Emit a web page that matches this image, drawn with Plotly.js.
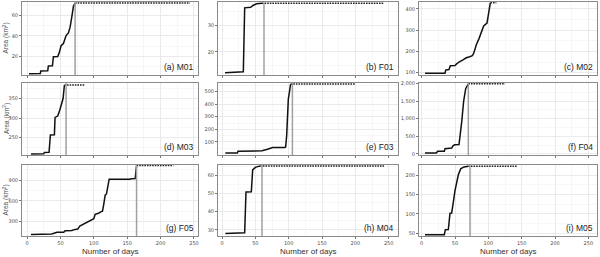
<!DOCTYPE html>
<html><head><meta charset="utf-8">
<script src="https://cdn.plot.ly/plotly-3.0.1.min.js"></script>
<style>html,body{margin:0;padding:0;background:#fff}#chart{width:600px;height:257px}</style>
</head><body><div id="chart"></div>
<script>
const panelLabels = ["(a) M01","(b) F01","(c) M02","(d) M03","(e) F03","(f) F04","(g) F05","(h) M04","(i) M05"];

const daysM01 = [3, 20, 20.5, 31, 32, 38, 39.5, 46, 48.5, 51, 54.5, 58.5, 62, 64.5, 67, 69.5, 72];
const areaM01 = [2.5, 2.8, 5.3, 5.5, 10.3, 10.5, 19.3, 19.5, 23.7, 30.3, 32.5, 40.3, 43, 48.7, 58.7, 69.3, 72.6];

const daysF01 = [4.5, 32, 34, 43, 47, 52, 60];
const areaF01 = [12.1, 12.5, 36.5, 36.7, 37.5, 38, 38.2];

const daysM02 = [5, 35, 36, 41, 43, 50, 52, 56, 62, 67, 72, 76, 78, 82, 86, 90, 93, 98, 101, 103];
const areaM02 = [97, 97, 112, 115, 133, 134, 140, 150, 160, 170, 175, 180, 190, 231, 260, 298, 319, 333, 380, 428];

const daysM03 = [6, 25, 26, 33, 35, 41, 42, 46, 49, 52, 54, 56];
const areaM03 = [207.5, 208, 211.7, 212, 256.7, 257, 301.7, 305, 320, 339, 350, 385];

const daysF03 = [5, 23, 24, 55, 60, 67, 73, 76, 94, 95.5, 97, 99.5, 103];
const areaF03 = [12, 12, 25, 26, 30, 40, 50, 55, 56, 60, 150, 440, 560];

const daysF04 = [5, 22, 24, 34, 35, 42, 45, 47, 49.5, 56, 57, 60, 63, 66, 70];
const areaF04 = [25, 25, 75, 78, 150, 155, 165, 230, 260, 265, 400, 900, 1500, 1850, 1990];

const daysF05 = [6, 35, 37, 45, 55, 57, 67, 72, 76, 79, 82, 87, 91, 96, 100, 102, 107, 111, 113, 115, 117, 119, 121, 123, 154, 156, 162, 164];
const areaF05 = [110, 110, 120, 143, 146, 167, 170, 186, 190, 233, 250, 271, 300, 329, 340, 405, 419, 443, 450, 557, 681, 700, 800, 914, 914, 920, 922, 1110];

const daysM04 = [5, 17.5, 20, 34, 36, 44, 46, 50, 53.5, 57.5];
const areaM04 = [28, 28, 28.3, 28.4, 50.9, 51, 63.1, 64.5, 64.9, 65.2];

const daysM05 = [5, 34, 35.5, 40, 42.5, 45, 47.5, 50, 55, 58.5, 63.5, 70];
const areaM05 = [46, 46, 59.3, 59.5, 101.7, 102, 130.5, 160, 200.8, 216, 221, 223];

// day at which the grey marker line is drawn (null = none)
const markerDay = [72, 63, null, 58.5, 105.6, 70, 164, 60, 72.5];
// last observation day (plateau end)
const lastDay = [244, 243, 112, 87, 200, 125, 219, 243, 142.5];

const xTicks = [0, 50, 100, 150, 200, 250];
const yTicks = [
  [20, 40, 60], [20, 30], [100, 200, 300, 400],
  [250, 300, 350], [100, 200, 300, 400, 500], [0, 500, 1000, 1500, 2000],
  [300, 600, 900], [30, 40, 50, 60], [50, 100, 150, 200]
];

const allDays = [daysM01, daysF01, daysM02, daysM03, daysF03, daysF04, daysF05, daysM04, daysM05];
const allArea = [areaM01, areaF01, areaM02, areaM03, areaF03, areaF04, areaF05, areaM04, areaM05];

// layout geometry (pixels)
const W = 600, H = 257;
const colPx = [[22, 198], [218, 398], [419, 597]];
const rowPx = [[2, 75], [83, 155], [165, 236]];
const xRanges = [[-7.5, 256], [-6, 264], [-4, 263]];
const yRanges = [[1.3, 73.6], [11.3, 38.7], [89, 432], [205, 390], [-4, 568], [-30, 2012], [90, 1119], [26.6, 65.8], [43, 226]];

const traces = [], shapes = [], annotations = [];
const layout = {
  width: W, height: H, margin: {l: 0, r: 0, t: 0, b: 0},
  paper_bgcolor: '#fff', plot_bgcolor: '#fff', showlegend: false,
  font: {family: 'DejaVu Sans, sans-serif', color: '#4d4d4d'}
};

for (let i = 0; i < 9; i++) {
  const r = Math.floor(i / 3), c = i % 3;
  const n = i + 1;
  const xa = 'x' + (n === 1 ? '' : n), ya = 'y' + (n === 1 ? '' : n);
  const xk = 'xaxis' + (n === 1 ? '' : n), yk = 'yaxis' + (n === 1 ? '' : n);
  const d = allDays[i], a = allArea[i];
  const top = a[a.length - 1];
  traces.push({
    x: d, y: a, xaxis: xa, yaxis: ya, type: 'scatter', mode: 'lines',
    line: {color: '#111', width: 1.5}, hoverinfo: 'skip'
  });
  traces.push({
    x: [d[d.length - 1], lastDay[i]], y: [top, top], xaxis: xa, yaxis: ya,
    type: 'scatter', mode: 'lines',
    line: {color: '#222', width: 1.5, dash: '1.6px,1px'}, hoverinfo: 'skip'
  });
  layout[xk] = {
    domain: [colPx[c][0] / W, colPx[c][1] / W], anchor: ya, range: xRanges[c],
    tickvals: xTicks, showticklabels: r === 2, ticks: 'outside', ticklen: 2, tickwidth: 0.8,
    tickcolor: '#555', tickfont: {size: 5, color: '#4d4d4d'},
    showgrid: true, gridcolor: '#e6e6e6', gridwidth: 0.8,
    minor: {dtick: 25, tick0: 0, showgrid: true, gridcolor: '#f2f2f2', gridwidth: 0.6},
    showline: true, mirror: true, linecolor: '#8a8a8a', linewidth: 1, zeroline: false,
    fixedrange: true
  };
  const yt = yTicks[i];
  const step = yt[1] - yt[0];
  layout[yk] = {
    domain: [1 - rowPx[r][1] / H, 1 - rowPx[r][0] / H], anchor: xa, range: yRanges[i],
    tickvals: yt, tickformat: i === 5 ? ',d' : '', ticks: 'outside', ticklen: 2, tickwidth: 0.8,
    tickcolor: '#555', tickfont: {size: 5, color: '#4d4d4d'},
    showgrid: true, gridcolor: '#e6e6e6', gridwidth: 0.8,
    minor: {dtick: step / 2, tick0: yt[0], showgrid: true, gridcolor: '#f2f2f2', gridwidth: 0.6},
    showline: true, mirror: true, linecolor: '#8a8a8a', linewidth: 1, zeroline: false,
    fixedrange: true
  };
  if (markerDay[i] !== null) {
    shapes.push({
      type: 'line', xref: xa, yref: ya + ' domain', x0: markerDay[i], x1: markerDay[i], y0: 0, y1: 1,
      line: {color: '#a0a0a0', width: 1.5}
    });
  }
  annotations.push({
    text: panelLabels[i], xref: xa + ' domain', yref: ya + ' domain', x: 0.99, y: 0.02,
    xanchor: 'right', yanchor: 'bottom', showarrow: false,
    font: {size: 8.5, color: '#222', family: 'Liberation Sans, Arial, sans-serif'}
  });
  if (c === 0) {
    annotations.push({
      text: 'Area (km<sup>2</sup>)', xref: 'paper', yref: 'paper', x: 6 / W,
      y: 1 - (rowPx[r][0] + rowPx[r][1]) / 2 / H, textangle: -90, showarrow: false,
      xanchor: 'center', yanchor: 'middle',
      font: {size: 6.5, color: '#4d4d4d', family: 'Liberation Sans, Arial, sans-serif'}
    });
  }
  if (r === 2) {
    annotations.push({
      text: 'Number of days', xref: 'paper', yref: 'paper',
      x: (colPx[c][0] + colPx[c][1]) / 2 / W, y: 1 - 251 / H, showarrow: false,
      xanchor: 'center', yanchor: 'middle',
      font: {size: 8, color: '#333', family: 'Liberation Sans, Arial, sans-serif'}
    });
  }
}
layout.shapes = shapes;
layout.annotations = annotations;
Plotly.newPlot('chart', traces, layout, {displayModeBar: false, staticPlot: true});
</script></body></html>
